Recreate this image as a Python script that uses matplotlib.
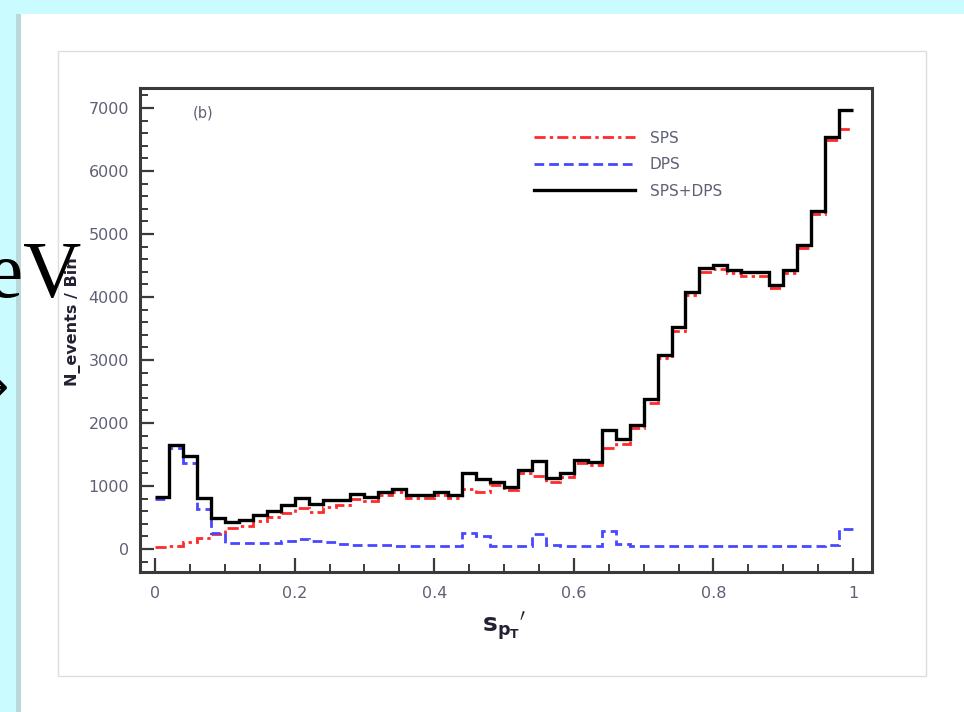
import numpy as np
import matplotlib
matplotlib.use("Agg")
import matplotlib.pyplot as plt
from matplotlib.patches import Rectangle
from matplotlib.ticker import MultipleLocator

# Histogram contents, 50 bins of width 0.02 in s_pT'
sps = [25, 50, 110, 175, 240, 330, 370, 440, 510, 570,
       650, 590, 660, 700, 800, 760, 850, 905, 805, 810,
       850, 810, 950, 905, 1020, 930, 1200, 1160, 1070, 1145,
       1365, 1330, 1610, 1660, 1915, 2320, 3025, 3465, 4030, 4400,
       4445, 4375, 4335, 4335, 4135, 4375, 4770, 5315, 6485, 6660]
dps = [800, 1600, 1370, 630, 250, 95, 95, 95, 100, 130,
       165, 130, 110, 80, 70, 60, 60, 55, 55, 50,
       50, 50, 260, 200, 50, 50, 50, 240, 60, 55,
       55, 55, 280, 80, 55, 55, 55, 55, 55, 55,
       55, 55, 55, 55, 55, 55, 55, 55, 60, 310]
x_range = (0.0, 1.0)
n_bins = 50

x_ticks = [0, 0.2, 0.4, 0.6, 0.8, 1]
x_tick_labels = ["0", "0.2", "0.4", "0.6", "0.8", "1"]
y_ticks = [0, 1000, 2000, 3000, 4000, 5000, 6000, 7000]
y_tick_labels = ["0", "1000", "2000", "3000", "4000", "5000", "6000", "7000"]

series_labels = ["SPS", "DPS", "SPS+DPS"]

W, H = 964, 712
fig = plt.figure(figsize=(W / 100, H / 100), dpi=100)
fig.patch.set_facecolor("#c9fbff")

def px_rect(x0, y0, x1, y1, **kw):
    # rectangle given in pixel coordinates measured from the top-left corner
    return Rectangle((x0 / W, 1 - y1 / H), (x1 - x0) / W, (y1 - y0) / H,
                     transform=fig.transFigure, **kw)

# slide panel with a soft shadow on its left edge
fig.patches.append(px_rect(16, 14, W + 5, H + 5, facecolor="#b8d8dc", edgecolor="none", zorder=-3))
fig.patches.append(px_rect(21, 14, W + 5, H + 5, facecolor="white", edgecolor="none", zorder=-2))
fig.patches.append(px_rect(58, 51, 926, 676, facecolor="white", edgecolor="#dddddd", lw=1.0, zorder=-1))

ax = fig.add_axes([140 / W, 1 - 572 / H, (872 - 140) / W, (572 - 88) / H])
ax.set_zorder(2)
ax.set_facecolor("white")

edges = np.linspace(x_range[0], x_range[1], n_bins + 1)
sps_arr = np.array(sps, dtype=float)
dps_arr = np.array(dps, dtype=float)
total = sps_arr + dps_arr

ax.stairs(sps_arr, edges, baseline=None, color="#ff2a2a", lw=2.0,
          linestyle=(0, (4, 1.5, 1.2, 1.5)), label=series_labels[0], zorder=3)
ax.stairs(dps_arr, edges, baseline=None, color="#4848ff", lw=2.0,
          linestyle=(0, (3.5, 1.8)), label=series_labels[1], zorder=3)
ax.stairs(total, edges, baseline=None, color="black", lw=2.4,
          label=series_labels[2], zorder=4)

ax.set_xlim(-0.0215, 1.0272)
ax.set_ylim(-365, 7317)

ax.set_xticks(x_ticks)
ax.set_xticklabels(x_tick_labels)
ax.set_yticks(y_ticks)
ax.set_yticklabels(y_tick_labels)
ax.xaxis.set_minor_locator(MultipleLocator(0.05))
ax.yaxis.set_minor_locator(MultipleLocator(200))

tick_color = "#3a3a3a"
label_color = "#5f6075"
ax.tick_params(axis="both", which="major", direction="in", length=10, width=1.6,
               color=tick_color, labelcolor=label_color, labelsize=11.5,
               top=False, right=False)
ax.tick_params(axis="both", which="minor", direction="in", length=5.5, width=1.4,
               color=tick_color, top=False, right=False)
ax.tick_params(axis="y", which="major", pad=8)
ax.tick_params(axis="x", which="major", pad=10)

for sp in ax.spines.values():
    sp.set_color("#3a3a3a")
    sp.set_linewidth(2.2)

ax.text(0.086, 0.948, "(b)", transform=ax.transAxes, ha="center", va="center",
        fontsize=10.5, color="#5f6075")

fig.text(73 / W, 1 - 322 / H, "N_events / Bin", rotation=90, ha="center", va="center",
         fontsize=11.5, fontweight="bold", color="#222233", zorder=3)
fig.text(504 / W, 1 - 627 / H, r"$\mathbf{s}_{\mathbf{p}_{\mathbf{T}}}{}^{\prime}$",
         ha="center", va="center", fontsize=18, color="#222233", zorder=3)

# fragments of the slide text at the left border
fig.text(82 / W, 1 - 297 / H, "TeV", ha="right", va="baseline",
         family="Liberation Serif", fontsize=58, color="black", zorder=5)
fig.text(9 / W, 1 - 400 / H, "\u2192", ha="right", va="baseline",
         family="DejaVu Sans", fontsize=30, color="black", zorder=5)

leg = ax.legend(loc="upper left", bbox_to_anchor=(0.538, 0.912), frameon=False,
                fontsize=11, handlelength=6.6, handletextpad=1.0, labelspacing=0.75,
                borderaxespad=0, borderpad=0)
for t in leg.get_texts():
    t.set_color("#5f6075")

fig.savefig("out.png", dpi=100, facecolor=fig.get_facecolor())
